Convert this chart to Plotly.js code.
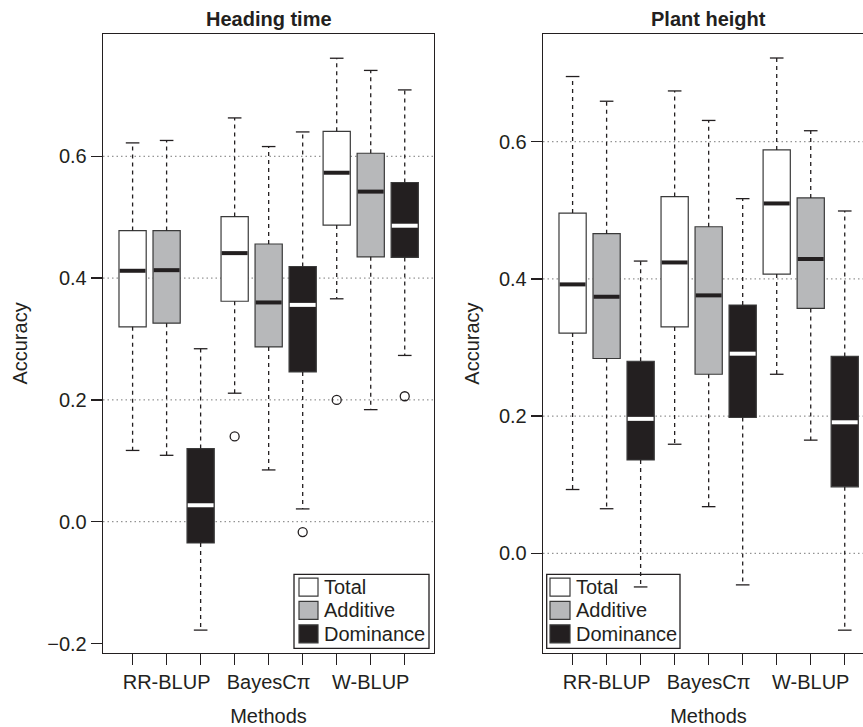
<!DOCTYPE html>
<html>
<head>
<meta charset="utf-8">
<script src="https://cdn.plot.ly/plotly-3.0.1.min.js"></script>
<style>
html,body{margin:0;padding:0;overflow:hidden;background:#fff;}
#chart{width:880px;height:727px;}
</style>
</head>
<body>
<div id="chart"></div>
<script>
// ---------- DATA ----------
const methods = ['RR-BLUP', 'BayesCπ', 'W-BLUP'];
const components = ['Total', 'Additive', 'Dominance'];
const panelTitles = ['Heading time', 'Plant height'];

// Heading time (per component, values for RR-BLUP, BayesCπ, W-BLUP)
const htTotalUpper = [0.622, 0.663, 0.761];
const htTotalQ3    = [0.478, 0.501, 0.641];
const htTotalMed   = [0.412, 0.441, 0.573];
const htTotalQ1    = [0.320, 0.362, 0.487];
const htTotalLower = [0.117, 0.211, 0.366];

const htAddUpper = [0.626, 0.616, 0.741];
const htAddQ3    = [0.478, 0.456, 0.605];
const htAddMed   = [0.413, 0.360, 0.542];
const htAddQ1    = [0.326, 0.287, 0.435];
const htAddLower = [0.109, 0.085, 0.184];

const htDomUpper = [0.284, 0.640, 0.709];
const htDomQ3    = [0.120, 0.419, 0.557];
const htDomMed   = [0.027, 0.356, 0.486];
const htDomQ1    = [-0.035, 0.246, 0.434];
const htDomLower = [-0.178, 0.021, 0.273];

const htOutlierMethod = ['BayesCπ', 'W-BLUP', 'BayesCπ', 'W-BLUP'];
const htOutlierComp   = ['Total', 'Total', 'Dominance', 'Dominance'];
const htOutlierValue  = [0.140, 0.200, -0.017, 0.206];

// Plant height
const phTotalUpper = [0.695, 0.674, 0.722];
const phTotalQ3    = [0.496, 0.520, 0.588];
const phTotalMed   = [0.392, 0.424, 0.510];
const phTotalQ1    = [0.321, 0.330, 0.407];
const phTotalLower = [0.093, 0.159, 0.261];

const phAddUpper = [0.659, 0.631, 0.616];
const phAddQ3    = [0.466, 0.476, 0.518];
const phAddMed   = [0.374, 0.376, 0.429];
const phAddQ1    = [0.284, 0.261, 0.357];
const phAddLower = [0.065, 0.068, 0.165];

const phDomUpper = [0.426, 0.517, 0.499];
const phDomQ3    = [0.280, 0.362, 0.287];
const phDomMed   = [0.196, 0.291, 0.191];
const phDomQ1    = [0.136, 0.198, 0.097];
const phDomLower = [-0.049, -0.046, -0.112];

const phOutlierMethod = [];
const phOutlierComp   = [];
const phOutlierValue  = [];

const htYTicks = [-0.2, 0.0, 0.2, 0.4, 0.6];
const phYTicks = [0.0, 0.2, 0.4, 0.6];
const gridValues = [0.0, 0.2, 0.4, 0.6];

// ---------- STYLE ----------
const FONT = 'Liberation Sans, Arial, Helvetica, sans-serif';
const FS = 20;
const fills = ['#ffffff', '#b7b8ba', '#231f20'];
const medianColors = ['#231f20', '#231f20', '#ffffff'];
const boxLine = '#3a3a3a';
const BOXW = 0.8, CAPW = 0.4;

const panels = [
  {
    stats: [
      {upper: htTotalUpper, q3: htTotalQ3, med: htTotalMed, q1: htTotalQ1, lower: htTotalLower},
      {upper: htAddUpper, q3: htAddQ3, med: htAddMed, q1: htAddQ1, lower: htAddLower},
      {upper: htDomUpper, q3: htDomQ3, med: htDomMed, q1: htDomQ1, lower: htDomLower}
    ],
    out: {m: htOutlierMethod, c: htOutlierComp, v: htOutlierValue},
    yticks: htYTicks, yrange: [-0.2156, 0.8008]
  },
  {
    stats: [
      {upper: phTotalUpper, q3: phTotalQ3, med: phTotalMed, q1: phTotalQ1, lower: phTotalLower},
      {upper: phAddUpper, q3: phAddQ3, med: phAddMed, q1: phAddQ1, lower: phAddLower},
      {upper: phDomUpper, q3: phDomQ3, med: phDomMed, q1: phDomQ1, lower: phDomLower}
    ],
    out: {m: phOutlierMethod, c: phOutlierComp, v: phOutlierValue},
    yticks: phYTicks, yrange: [-0.1453, 0.757]
  }
];

const pos = (mi, ci) => mi * 3 + ci + 1;

const traces = [];
panels.forEach((p, pi) => {
  const xa = pi === 0 ? 'x' : 'x2';
  const ya = pi === 0 ? 'y' : 'y2';
  // boxes as bars
  components.forEach((comp, ci) => {
    const s = p.stats[ci];
    traces.push({
      type: 'bar', xaxis: xa, yaxis: ya, showlegend: false, hoverinfo: 'skip',
      x: methods.map((m, mi) => pos(mi, ci)),
      base: s.q1,
      y: s.q3.map((v, i) => v - s.q1[i]),
      width: BOXW,
      marker: {color: fills[ci], line: {color: boxLine, width: 1.2}}
    });
  });
  // whiskers (dashed)
  const wx = [], wy = [], cx = [], cy = [];
  components.forEach((comp, ci) => {
    const s = p.stats[ci];
    methods.forEach((m, mi) => {
      const x = pos(mi, ci);
      wx.push(x, x, null, x, x, null);
      wy.push(s.q3[mi], s.upper[mi], null, s.q1[mi], s.lower[mi], null);
      cx.push(x - CAPW / 2, x + CAPW / 2, null, x - CAPW / 2, x + CAPW / 2, null);
      cy.push(s.upper[mi], s.upper[mi], null, s.lower[mi], s.lower[mi], null);
    });
  });
  traces.push({
    type: 'scatter', mode: 'lines', xaxis: xa, yaxis: ya, showlegend: false, hoverinfo: 'skip',
    x: wx, y: wy, line: {color: '#231f20', width: 1.3, dash: '4px,4px'}
  });
  traces.push({
    type: 'scatter', mode: 'lines', xaxis: xa, yaxis: ya, showlegend: false, hoverinfo: 'skip',
    x: cx, y: cy, line: {color: '#231f20', width: 1.3}
  });
  // medians
  components.forEach((comp, ci) => {
    const s = p.stats[ci];
    const mx = [], my = [];
    methods.forEach((m, mi) => {
      const x = pos(mi, ci);
      mx.push(x - BOXW / 2 + 0.02, x + BOXW / 2 - 0.02, null);
      my.push(s.med[mi], s.med[mi], null);
    });
    traces.push({
      type: 'scatter', mode: 'lines', xaxis: xa, yaxis: ya, showlegend: false, hoverinfo: 'skip',
      x: mx, y: my, line: {color: medianColors[ci], width: 4}
    });
  });
  // outliers
  if (p.out.v.length) {
    traces.push({
      type: 'scatter', mode: 'markers', xaxis: xa, yaxis: ya, showlegend: false, hoverinfo: 'skip',
      x: p.out.v.map((v, i) => pos(methods.indexOf(p.out.m[i]), components.indexOf(p.out.c[i]))),
      y: p.out.v,
      marker: {symbol: 'circle-open', size: 9, color: '#231f20', line: {width: 1.3}}
    });
  }
});

// ---------- LAYOUT ----------
const W = 880, H = 727;
const plotL = 103, plotR = 874, plotT = 34, plotB = 653;
const areaW = plotR - plotL;
const panelW = 331, panelH = plotB - plotT;
const leftDomain = [0, panelW / areaW];
const rightDomain = [(543 - plotL) / areaW, 1];

const xtickvals = [1, 2, 3, 4, 5, 6, 7, 8, 9];
const xticktext = ['', methods[0], '', '', methods[1], '', '', methods[2], ''];

function xaxisDef(domain, anchor) {
  return {
    domain: domain, anchor: anchor, range: [0.13, 9.86],
    tickmode: 'array', tickvals: xtickvals, ticktext: xticktext,
    ticks: 'outside', ticklen: 11, tickwidth: 1.3, tickcolor: '#231f20',
    showline: true, mirror: true, linecolor: '#231f20', linewidth: 1.3,
    showgrid: false, zeroline: false, fixedrange: true,
    tickfont: {family: FONT, size: FS, color: '#231f20'},
    title: {text: 'Methods', font: {family: FONT, size: FS, color: '#231f20'}, standoff: 18}
  };
}
function yaxisDef(p, anchor) {
  return {
    anchor: anchor, domain: [0, 1], range: p.yrange,
    tickmode: 'array', tickvals: p.yticks, ticktext: p.yticks.map(v => (v < 0 ? '\u2212' : '') + Math.abs(v).toFixed(1)),
    ticks: 'outside', ticklen: 11, tickwidth: 1.3, tickcolor: '#231f20',
    showline: true, mirror: true, linecolor: '#231f20', linewidth: 1.3,
    showgrid: false, zeroline: false, fixedrange: true,
    tickfont: {family: FONT, size: FS, color: '#231f20'},
    title: {text: 'Accuracy', font: {family: FONT, size: FS, color: '#231f20'}, standoff: 14}
  };
}

const shapes = [], annotations = [];
// dotted reference lines at grid values
['y', 'y2'].forEach((yr, pi) => {
  const xr = pi === 0 ? 'x' : 'x2';
  gridValues.forEach(v => {
    shapes.push({type: 'line', layer: 'below', xref: xr + ' domain', yref: yr,
      x0: 0, x1: 1, y0: v, y1: v, line: {color: '#7a7a7a', width: 1, dash: '1.5px,3px'}});
  });
});

// legend drawn as shapes + annotations (domain coordinates)
function addLegend(xref, yref, boxX0, boxX1, swX0, swX1, textX) {
  const dx = v => v / panelW, dy = v => v / panelH;
  shapes.push({type: 'rect', layer: 'below', xref: xref + ' domain', yref: yref + ' domain',
    x0: dx(boxX0), x1: dx(boxX1), y0: dy(4.7), y1: dy(78.7),
    line: {color: '#231f20', width: 1.3}, fillcolor: '#ffffff'});
  const rowsY = [65.8, 42.7, 19.1];
  components.forEach((comp, ci) => {
    shapes.push({type: 'rect', layer: 'below', xref: xref + ' domain', yref: yref + ' domain',
      x0: dx(swX0), x1: dx(swX1), y0: dy(rowsY[ci] - 9), y1: dy(rowsY[ci] + 9),
      line: {color: boxLine, width: 1.2}, fillcolor: fills[ci]});
    annotations.push({xref: xref + ' domain', yref: yref + ' domain',
      x: dx(textX), y: dy(rowsY[ci]), xanchor: 'left', yanchor: 'middle',
      text: comp, showarrow: false, font: {family: FONT, size: FS, color: '#231f20'}});
  });
}
addLegend('x', 'y', 191, 326, 196, 215, 219);
addLegend('x2', 'y2', 3.7, 137, 7, 27, 31);

// panel titles
[['x', panelTitles[0]], ['x2', panelTitles[1]]].forEach(([xr, t]) => {
  annotations.push({xref: xr + ' domain', yref: 'paper', x: 0.5, y: 1, yshift: 15,
    xanchor: 'center', yanchor: 'middle', text: '<b>' + t + '</b>', showarrow: false,
    font: {family: FONT, size: FS, color: '#231f20'}});
});

const layout = {
  width: W, height: H,
  margin: {l: plotL, r: W - plotR, t: plotT, b: H - plotB, pad: 0},
  paper_bgcolor: '#ffffff', plot_bgcolor: '#ffffff',
  barmode: 'overlay', showlegend: false, hovermode: false,
  xaxis: xaxisDef(leftDomain, 'y'),
  yaxis: yaxisDef(panels[0], 'x'),
  xaxis2: xaxisDef(rightDomain, 'y2'),
  yaxis2: yaxisDef(panels[1], 'x2'),
  shapes: shapes, annotations: annotations
};

Plotly.newPlot('chart', traces, layout, {displayModeBar: false, staticPlot: true});
</script>
</body>
</html>
